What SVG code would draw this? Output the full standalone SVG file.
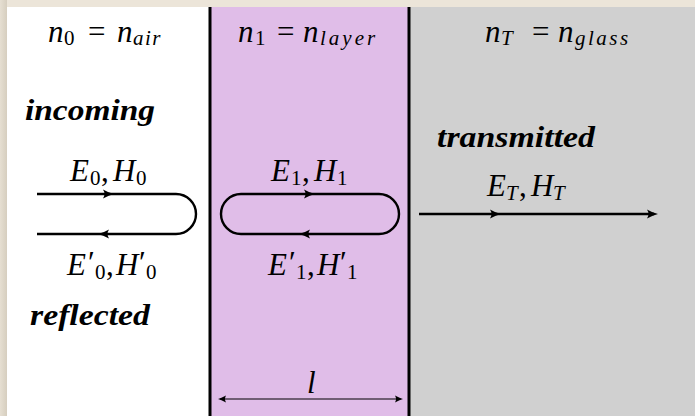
<svg xmlns="http://www.w3.org/2000/svg" xmlns:xlink="http://www.w3.org/1999/xlink" width="695" height="416" viewBox="0 0 695 416">
<style>
.m{font-family:'Liberation Serif','Times New Roman',serif;font-size:31px;font-style:italic;fill:#000}
.r{font-style:normal}
.s{font-size:21px}
.b{font-family:'Liberation Serif','Times New Roman',serif;font-size:30px;font-style:italic;font-weight:bold;fill:#000}
.ln{fill:none;stroke:#000;stroke-width:2.4}
.thin{fill:none;stroke:#000;stroke-width:1.2}
.wall{stroke:#000;stroke-width:3}
</style>
<defs>
<path id="ah" d="M-9,-4.5 Q-3,-1 2,0 Q-3,1 -9,4.5 Q-6,0 -9,-4.5 Z" fill="#000"/>
<path id="ahs" d="M-7,-3.5 Q-2,-0.8 1,0 Q-2,0.8 -7,3.5 Q-5,0 -7,-3.5 Z" fill="#000"/>
<linearGradient id="lg" x1="0" y1="0" x2="1" y2="0">
<stop offset="0" stop-color="#e6dfd2"/><stop offset="1" stop-color="#d6cebf"/>
</linearGradient>
</defs>
<rect x="0" y="0" width="695" height="416" fill="#ece5d9"/>
<rect x="0" y="0" width="7" height="416" fill="url(#lg)"/>
<g id="air">
<rect x="7" y="7" width="203" height="409" fill="#ffffff"/>
<text class="m" y="42"><tspan x="48">n</tspan><tspan x="64" dy="3" class="r s">0</tspan><tspan x="88" dy="-3" class="r">=</tspan><tspan x="117">n</tspan><tspan x="133" dy="3" class="s" letter-spacing="1.5">air</tspan></text>
<text class="b" x="25" y="120" textLength="130" lengthAdjust="spacingAndGlyphs">incoming</text>
<text class="b" x="30" y="325" textLength="120" lengthAdjust="spacingAndGlyphs">reflected</text>
<text class="m" y="181"><tspan x="70">E</tspan><tspan x="90" dy="4" class="r s">0</tspan><tspan x="101" dy="-4" class="r">,</tspan><tspan x="113">H</tspan><tspan x="136" dy="4" class="r s">0</tspan></text>
<text class="m" y="275"><tspan x="67">E</tspan><tspan x="88" dy="-2" class="r">′</tspan><tspan x="95" dy="6" class="r s">0</tspan><tspan x="106" dy="-4" class="r">,</tspan><tspan x="116">H</tspan><tspan x="139" dy="-2" class="r">′</tspan><tspan x="146" dy="6" class="r s">0</tspan></text>
</g>
<g id="layer">
<rect x="210" y="7" width="199" height="409" fill="#e0bde8"/>
<text class="m" y="42"><tspan x="238">n</tspan><tspan x="255" dy="3" class="r s">1</tspan><tspan x="277" dy="-3" class="r">=</tspan><tspan x="303">n</tspan><tspan x="320" dy="3" class="s" letter-spacing="3">layer</tspan></text>
<text class="m" y="181"><tspan x="271">E</tspan><tspan x="291" dy="4" class="r s">1</tspan><tspan x="302" dy="-4" class="r">,</tspan><tspan x="314">H</tspan><tspan x="337" dy="4" class="r s">1</tspan></text>
<text class="m" y="275"><tspan x="268">E</tspan><tspan x="289" dy="-2" class="r">′</tspan><tspan x="296" dy="6" class="r s">1</tspan><tspan x="307" dy="-4" class="r">,</tspan><tspan x="317">H</tspan><tspan x="340" dy="-2" class="r">′</tspan><tspan x="347" dy="6" class="r s">1</tspan></text>
<text class="m" x="307" y="393">l</text>
</g>
<g id="glass">
<rect x="409" y="7" width="286" height="409" fill="#d0d0d0"/>
<text class="m" y="42"><tspan x="485">n</tspan><tspan x="501" dy="3" class="s">T</tspan><tspan x="532" dy="-3" class="r">=</tspan><tspan x="558">n</tspan><tspan x="575" dy="3" class="s" letter-spacing="2.5">glass</tspan></text>
<text class="b" x="437" y="147" textLength="158" lengthAdjust="spacingAndGlyphs">transmitted</text>
<text class="m" y="196"><tspan x="487">E</tspan><tspan x="506" dy="4" class="s">T</tspan><tspan x="519" dy="-4" class="r">,</tspan><tspan x="531">H</tspan><tspan x="553" dy="4" class="s">T</tspan></text>
</g>
<g id="walls">
<line class="wall" x1="210" y1="7" x2="210" y2="416"/>
<line class="wall" x1="409" y1="7" x2="409" y2="416"/>
</g>
<g id="connectors">
<path class="ln" d="M37,194 H176 A20,20 0 0 1 176,234 H37"/>
<use xlink:href="#ah" transform="translate(112,194)"/>
<use xlink:href="#ah" transform="translate(100,234) rotate(180)"/>
<path class="ln" d="M241,194 H379 A20,20 0 0 1 379,234 H241 A20,20 0 0 1 241,194 Z"/>
<use xlink:href="#ah" transform="translate(313,194)"/>
<use xlink:href="#ah" transform="translate(301,234) rotate(180)"/>
<path class="ln" d="M419,214 H654"/>
<use xlink:href="#ah" transform="translate(499,214)"/>
<use xlink:href="#ah" transform="translate(656,214)"/>
<path class="thin" d="M220,399 H401"/>
<use xlink:href="#ahs" transform="translate(219,399) rotate(180)"/>
<use xlink:href="#ahs" transform="translate(402,399)"/>
</g>
</svg>
